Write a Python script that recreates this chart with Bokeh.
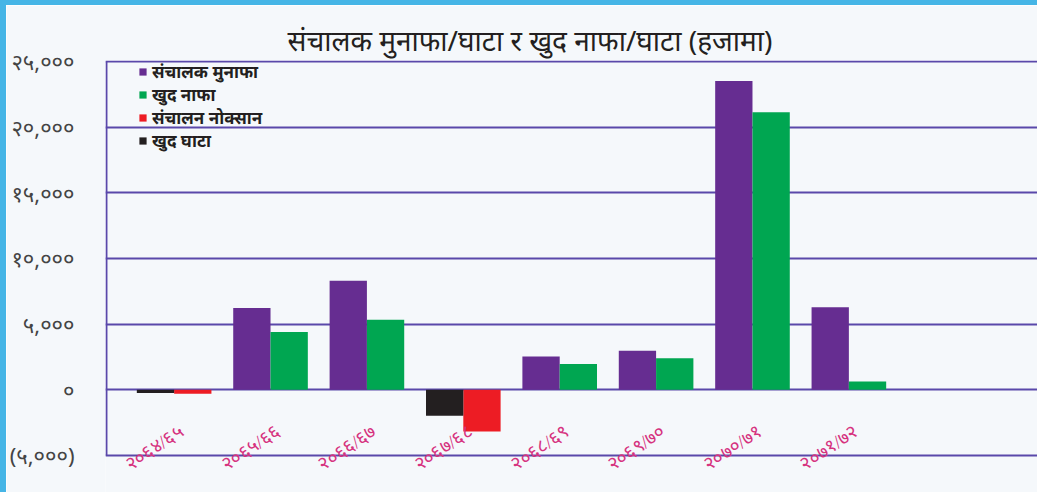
import numpy as np
from bokeh.plotting import figure
from bokeh.models import (ColumnDataSource, FixedTicker, Range1d, Legend, LegendItem, LabelSet)
from bokeh.embed import file_html
from bokeh.resources import INLINE

# ---------------- data ----------------
fiscal_years = ["२०६४/६५", "२०६५/६६", "२०६६/६७", "२०६७/६८",
                "२०६८/६९", "२०६९/७०", "२०७०/७१", "२०७१/७२"]
operating_profit = [None, 6240, 8300, None, 2540, 2970, 23520, 6290]   # संचालक मुनाफा
net_profit = [None, 4410, 5330, None, 1960, 2410, 21130, 630]          # खुद नाफा
operating_loss = [-300, None, None, -3170, None, None, None, None]     # संचालन नोक्सान
net_loss = [-250, None, None, -1980, None, None, None, None]           # खुद घाटा

series_names = ["संचालक मुनाफा", "खुद नाफा", "संचालन नोक्सान", "खुद घाटा"]
series_colors = ["#662d91", "#00a651", "#ed1c24", "#231f20"]

y_ticks = [-5000, 0, 5000, 10000, 15000, 20000, 25000]
y_tick_labels = ["(५,०००)", "०", "५,०००", "१०,०००", "१५,०००", "२०,०००", "२५,०००"]

title_text = "संचालक मुनाफा/घाटा र खुद नाफा/घाटा (हजामा)"

# ---------------- style ----------------
BG = "#f5f8fb"
GRID = "#5a48aa"
FONT = "Noto Sans"
BAR_W = 0.387
DODGE = BAR_W / 2
X_START, X_END = -0.712, 8.988
Y_START, Y_END = -8198, 25076

p = figure(width=1037, height=492, output_backend="svg", toolbar_location=None,
           x_range=Range1d(X_START, X_END), y_range=Range1d(Y_START, Y_END),
           min_border_left=95, min_border_right=3, min_border_top=55, min_border_bottom=0)
p.styles = {"border-left": "6px solid #45b5e6", "border-top": "5px solid #45b5e6"}
p.background_fill_color = BG
p.border_fill_color = BG
p.outline_line_color = None
p.xaxis.visible = False

p.title.text = title_text
p.title.align = "left"
p.title.offset = 182
p.title.standoff = 4
p.title.text_font = FONT
p.title.text_font_size = "28px"
p.title.text_font_style = "normal"
p.title.text_color = "#231f20"

# grid (the -5000 grid line is the bottom frame line)
p.xgrid.grid_line_color = None
p.ygrid.ticker = FixedTicker(ticks=y_ticks)
p.ygrid.grid_line_color = GRID
p.ygrid.grid_line_width = 2

# left frame line from the lowest to the highest tick
p.segment(x0=[X_START + 0.01], y0=[min(y_ticks)], x1=[X_START + 0.01], y1=[max(y_ticks)],
          line_color=GRID, line_width=2)


def series_source(values, shift):
    xs, tops = [], []
    for i, v in enumerate(values):
        if v is not None:
            xs.append(i + shift)
            tops.append(v)
    return ColumnDataSource(dict(x=xs, top=tops))


renderers = []
for vals, shift, color in [(operating_profit, -DODGE, series_colors[0]),
                           (net_profit, DODGE, series_colors[1]),
                           (operating_loss, DODGE, series_colors[2]),
                           (net_loss, -DODGE, series_colors[3])]:
    r = p.vbar(x="x", top="top", bottom=0, width=BAR_W, source=series_source(vals, shift),
               fill_color=color, line_color=None)
    renderers.append(r)

# y axis labels
p.yaxis.ticker = FixedTicker(ticks=y_ticks)
p.yaxis.major_label_overrides = {t: l for t, l in zip(y_ticks, y_tick_labels)}
p.yaxis.major_tick_line_color = None
p.yaxis.minor_tick_line_color = None
p.yaxis.axis_line_color = None
p.yaxis.major_label_standoff = 25
p.yaxis.major_label_text_font = FONT
p.yaxis.major_label_text_font_size = "22px"
p.yaxis.major_label_text_color = "#444444"

# rotated pink fiscal-year labels
lab_src = ColumnDataSource(dict(x=list(range(len(fiscal_years))),
                                y=[min(y_ticks)] * len(fiscal_years),
                                text=fiscal_years))
p.add_layout(LabelSet(x="x", y="y", text="text", source=lab_src,
                      x_offset=-20, y_offset=8, angle=0.593,
                      text_align="center", text_baseline="middle",
                      text_font=FONT, text_font_size="19px", text_color="#d6337f"))

# legend
legend = Legend(items=[LegendItem(label=n, renderers=[r]) for n, r in zip(series_names, renderers)],
                location=(33, 345), orientation="vertical",
                background_fill_alpha=0, border_line_color=None,
                glyph_width=9, glyph_height=9, label_standoff=5,
                label_height=20, spacing=0, padding=0, margin=0,
                label_text_font=FONT, label_text_font_size="17px",
                label_text_font_style="bold", label_text_color="#231f20")
p.add_layout(legend)

open("out.html", "w").write(file_html(p, INLINE))
